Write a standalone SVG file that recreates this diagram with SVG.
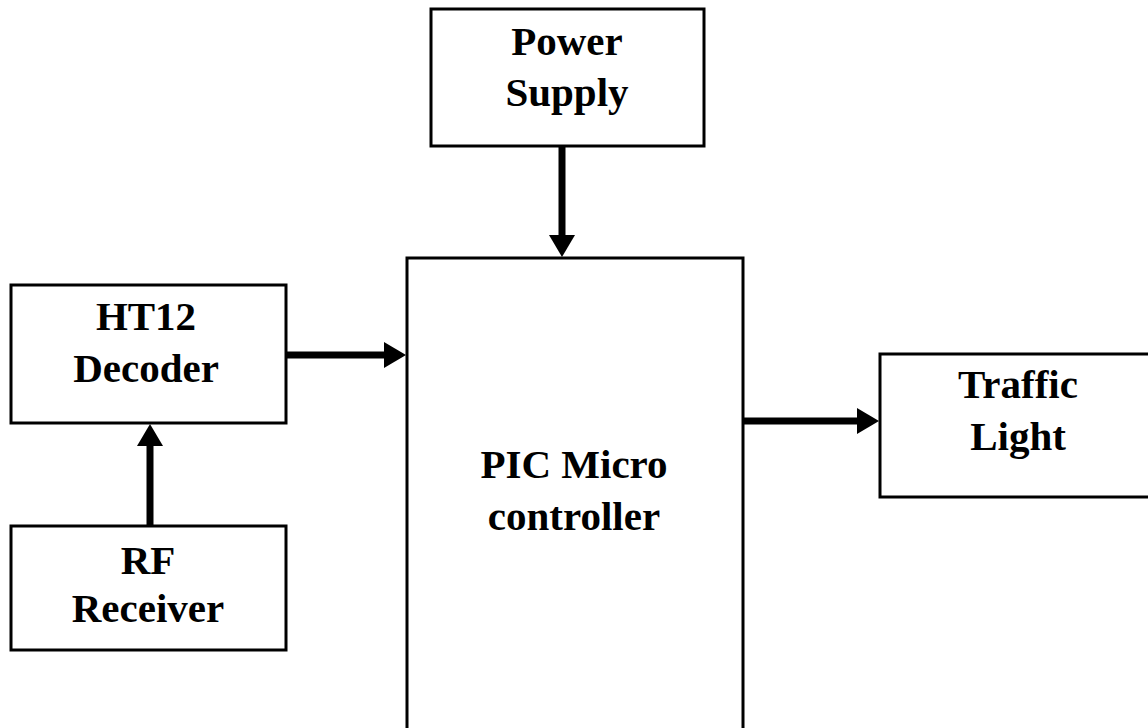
<svg xmlns="http://www.w3.org/2000/svg" width="1148" height="728" viewBox="0 0 1148 728">
  <style>
    .box { fill: #ffffff; stroke: #000000; stroke-width: 3; }
    .lbl { font-family: "Liberation Serif", "Times New Roman", serif; font-weight: bold; font-size: 41px; fill: #000000; text-anchor: middle; }
    .wire { stroke: #000000; stroke-width: 7; fill: none; marker-end: url(#head); }
  </style>
  <defs>
    <marker id="head" markerUnits="userSpaceOnUse" markerWidth="24" markerHeight="26" refX="0" refY="13" orient="auto" overflow="visible">
      <path d="M0,0 L22,13 L0,26 Z" fill="#000000"/>
    </marker>
  </defs>
  <rect width="1148" height="728" fill="#ffffff"/>

  <g id="power-supply">
    <rect class="box" x="431" y="9" width="273" height="137"/>
    <text class="lbl" x="567" y="55">Power</text>
    <text class="lbl" x="567" y="106">Supply</text>
  </g>

  <g id="pic-microcontroller">
    <rect class="box" x="407" y="258" width="336" height="490"/>
    <text class="lbl" x="574" y="478">PIC Micro</text>
    <text class="lbl" x="574" y="530">controller</text>
  </g>

  <g id="ht12-decoder">
    <rect class="box" x="11" y="285" width="275" height="138"/>
    <text class="lbl" x="146" y="330">HT12</text>
    <text class="lbl" x="146" y="382">Decoder</text>
  </g>

  <g id="rf-receiver">
    <rect class="box" x="11" y="526" width="275" height="124"/>
    <text class="lbl" x="148" y="574">RF</text>
    <text class="lbl" x="148" y="622">Receiver</text>
  </g>

  <g id="traffic-light">
    <rect class="box" x="880" y="354" width="290" height="143"/>
    <text class="lbl" x="1018" y="398">Traffic</text>
    <text class="lbl" x="1018" y="450">Light</text>
  </g>

  <g id="connectors">
    <line class="wire" x1="562" y1="147" x2="562" y2="235"/>
    <line class="wire" x1="287" y1="355" x2="384" y2="355"/>
    <line class="wire" x1="150" y1="525" x2="150" y2="446"/>
    <line class="wire" x1="743" y1="421" x2="857" y2="421"/>
  </g>
</svg>
